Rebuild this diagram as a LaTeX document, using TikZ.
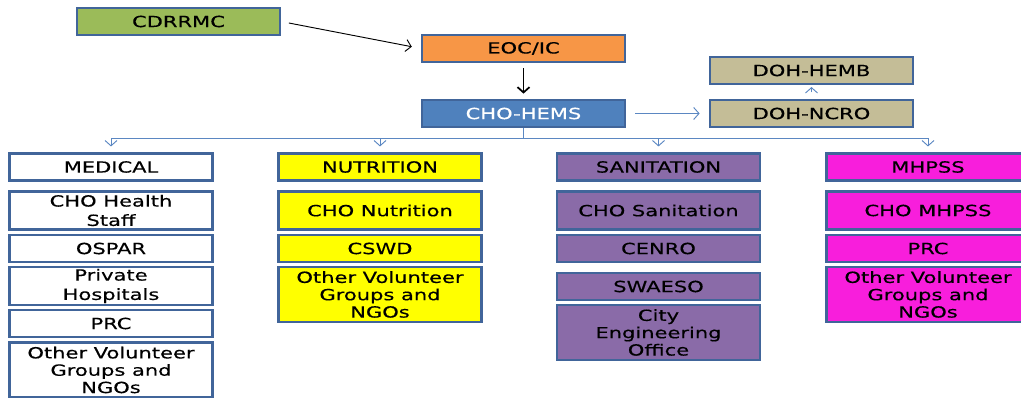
\documentclass[tikz,border=0pt]{standalone}
\usepackage{fontspec}
\setmainfont{DejaVu Sans}[FakeStretch=1.37,FakeBold=0.4]
\usetikzlibrary{arrows.meta}
\definecolor{boxline}{HTML}{41659A}
\definecolor{linkblue}{HTML}{5B87C2}
\definecolor{cdrgreen}{HTML}{9BBB59}
\definecolor{eocorange}{HTML}{F79646}
\definecolor{hemsblue}{HTML}{4F81BD}
\definecolor{dohtan}{HTML}{C4BD97}
\definecolor{nutyellow}{HTML}{FFFF00}
\definecolor{sanpurple}{HTML}{8A6BA8}
\definecolor{mhpink}{HTML}{F81EDC}
\begin{document}
\begin{tikzpicture}[x=0.75pt,y=-0.75pt,
        box/.style={draw=boxline,line width=1.8pt,minimum width=152pt,
            minimum height=20pt,inner sep=0pt,align=center,
            font=\fontsize{11.5}{14.5}\selectfont},
        tall/.style={minimum height=28.5pt},
        taller/.style={minimum height=41pt,font=\fontsize{11.5}{13}\selectfont},
        link/.style={draw=linkblue,line width=0.7pt},
        tip/.style={-{Straight Barb[length=4pt,width=9pt]}}]
    \useasboundingbox (0,0) rectangle (1021,398);

    \node[box,fill=cdrgreen] (cdrrmc) at (178.5,21.5) {CDRRMC};
    \node[box,fill=eocorange] (eoc) at (523.5,48.5) {EOC/IC};
    \node[box,fill=hemsblue,text=white] (hems) at (523.5,113.5) {CHO-HEMS};
    \node[box,fill=dohtan] (hemb) at (811.5,70.5) {DOH-HEMB};
    \node[box,fill=dohtan] (ncro) at (811.5,113.5) {DOH-NCRO};

    \node[box,fill=white] (med) at (111,167) {MEDICAL};
    \node[box,tall,fill=white] (medstaff) at (111,210.5) {CHO Health\\Staff};
    \node[box,fill=white] (ospar) at (111,248.5) {OSPAR};
    \node[box,tall,fill=white] (privhosp) at (111,286) {Private\\Hospitals};
    \node[box,fill=white] (medprc) at (111,323.5) {PRC};
    \node[box,taller,fill=white] (medngo) at (111,370) {Other Volunteer\\Groups and\\NGOs};

    \node[box,fill=nutyellow] (nut) at (380,167) {NUTRITION};
    \node[box,tall,fill=nutyellow] (nutcho) at (380,210.5) {CHO Nutrition};
    \node[box,fill=nutyellow] (cswd) at (380,248.5) {CSWD};
    \node[box,taller,fill=nutyellow] (nutngo) at (380,294.5) {Other Volunteer\\Groups and\\NGOs};

    \node[box,fill=sanpurple] (san) at (658.5,167) {SANITATION};
    \node[box,tall,fill=sanpurple] (sancho) at (658.5,210.5) {CHO Sanitation};
    \node[box,fill=sanpurple] (cenro) at (658.5,248.5) {CENRO};
    \node[box,fill=sanpurple] (swaeso) at (658.5,286.5) {SWAESO};
    \node[box,taller,fill=sanpurple] (cityeng) at (658.5,332.5) {City\\Engineering\\Office};

    \node[box,fill=mhpink] (mh) at (928,167) {MHPSS};
    \node[box,tall,fill=mhpink] (mhcho) at (928,210.5) {CHO MHPSS};
    \node[box,fill=mhpink] (mhprc) at (928,248.5) {PRC};
    \node[box,taller,fill=mhpink] (mhngo) at (928,294.5) {Other Volunteer\\Groups and\\NGOs};

    \draw[tip,line width=0.7pt,shorten <=6pt,shorten >=7pt] (cdrrmc.east) -- (eoc.west);
    \draw[tip,line width=1.3pt,shorten <=4pt,shorten >=4pt] (eoc.south) -- (hems.north);
    \draw[link,tip,shorten <=7pt,shorten >=7pt] (hems.east) -- (ncro.west);
    \draw[link,tip,shorten <=5pt,shorten >=1.5pt] (ncro.north) -- (hemb.south);

    \path (hems.south) ++(0,10) coordinate (bus);
    \draw[link] (hems.south) -- (bus);
    \draw[link] (med.north |- bus) -- (mh.north |- bus);
    \foreach \col in {med,nut,san,mh}
        \draw[link,tip,shorten >=4.5pt] (\col.north |- bus) -- (\col.north);
\end{tikzpicture}
\end{document}
